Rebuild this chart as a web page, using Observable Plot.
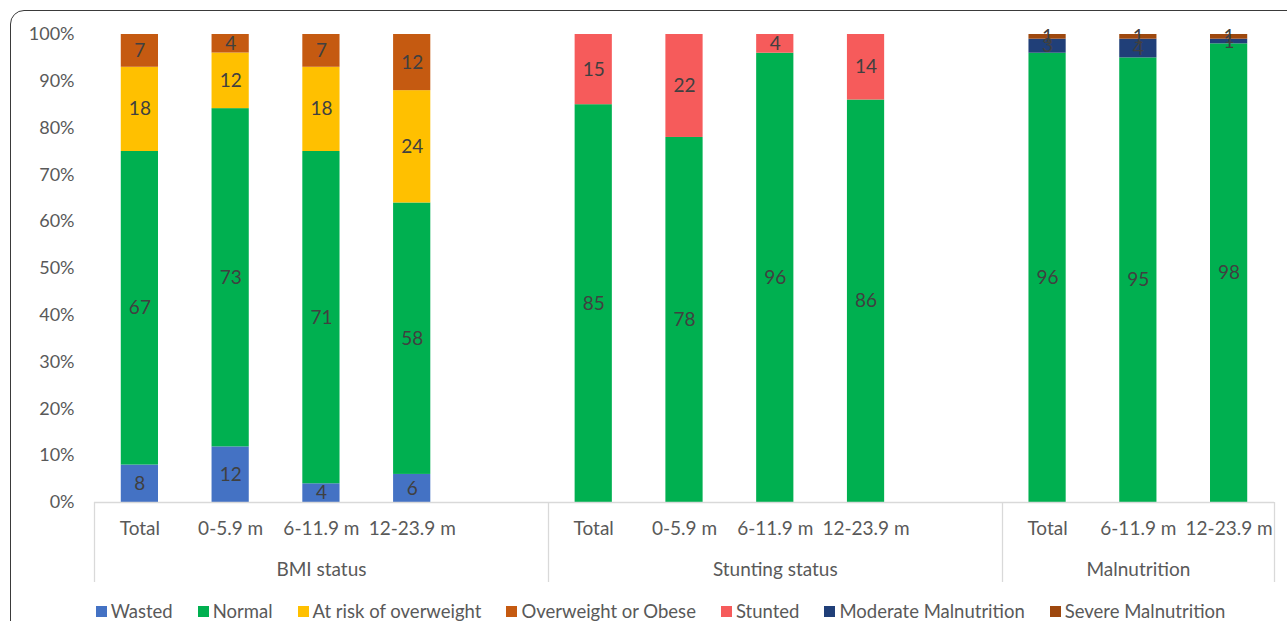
<!DOCTYPE html>
<html>
<head>
<meta charset="utf-8">
<script src="https://cdn.jsdelivr.net/npm/d3@7"></script>
<script src="https://cdn.jsdelivr.net/npm/@observablehq/plot@0.6"></script>
<style>
  html, body { margin: 0; padding: 0; background: #fff; overflow: hidden; }
  body { font-family: Lato, "Open Sans", sans-serif; width: 1287px; height: 621px; position: relative; }
  #frame { position: absolute; left: 10px; top: 10px; width: 1340px; height: 720px;
           border: 1.4px solid #3a3a3a; border-radius: 14px; box-sizing: border-box; }
  #chart { position: absolute; left: 0; top: 0; }
  #legend { position: absolute; left: 17px; top: 600px; width: 1287px; display: flex; justify-content: center;
            gap: 25px; font-size: 18.5px; color: #595959; line-height: 22px; white-space: nowrap; }
  #legend .item { display: flex; align-items: center; gap: 4px; }
  #legend .sw { width: 11px; height: 11px; display: inline-block; }
</style>
</head>
<body>
<div id="frame"></div>
<div id="chart"></div>
<div id="legend"></div>
<script>
// Groups of bars and the age bands inside each group
const groups = ["BMI status", "Stunting status", "Malnutrition"];
const bmiAges = ["Total", "0-5.9 m", "6-11.9 m", "12-23.9 m"];
const stuntingAges = ["Total", "0-5.9 m", "6-11.9 m", "12-23.9 m"];
const malnutritionAges = ["Total", "6-11.9 m", "12-23.9 m"];

// Series names and colours (stacking order bottom to top within each group)
const series = ["Wasted", "Normal", "At risk of overweight", "Overweight or Obese",
                "Stunted", "Moderate Malnutrition", "Severe Malnutrition"];
const colors = ["#4472C4", "#00B050", "#FFC000", "#C55A11", "#F65B5B", "#203F78", "#9E480E"];

// BMI status (%)
const wasted = [8, 12, 4, 6];
const normalBmi = [67, 73, 71, 58];
const atRisk = [18, 12, 18, 24];
const overweight = [7, 4, 7, 12];

// Stunting status (%)
const normalStunting = [85, 78, 96, 86];
const stunted = [15, 22, 4, 14];

// Malnutrition (%)
const normalMalnutrition = [96, 95, 98];
const moderate = [3, 4, 1];
const severe = [1, 1, 1];

// Y axis ticks (share of 100%)
const yTicks = [0, 0.1, 0.2, 0.3, 0.4, 0.5, 0.6, 0.7, 0.8, 0.9, 1];

// ---- build the long table ----
const rows = [];
const slots = [];
function addGroup(group, ages, parts, withGap) {
  ages.forEach((age, i) => {
    const slot = group + "|" + age;
    slots.push(slot);
    parts.forEach(([name, values]) => rows.push({slot, group, age, series: name, value: values[i]}));
  });
  if (withGap) slots.push(group + "|");
}
addGroup(groups[0], bmiAges, [["Wasted", wasted], ["Normal", normalBmi],
  ["At risk of overweight", atRisk], ["Overweight or Obese", overweight]], true);
addGroup(groups[1], stuntingAges, [["Normal", normalStunting], ["Stunted", stunted]], true);
addGroup(groups[2], malnutritionAges, [["Normal", normalMalnutrition],
  ["Moderate Malnutrition", moderate], ["Severe Malnutrition", severe]], false);

// group label sits under the middle slot of the group's span
const groupLabels = groups.map(g => {
  const own = slots.filter(s => s.startsWith(g + "|"));
  return {group: g, slot: own[Math.floor((own.length - 1) / 2)]};
});

// vertical separators between groups, below the baseline
function separators(index, scales, values, dims) {
  const left = dims.marginLeft, right = dims.width - dims.marginRight;
  const step = (right - left) / slots.length;
  const y0 = dims.height - dims.marginBottom;
  const g = d3.create("svg:g").attr("stroke", "#d9d9d9").attr("stroke-width", 1.3);
  const starts = [0];
  slots.forEach((s, i) => { if (i > 0 && s.split("|")[0] !== slots[i - 1].split("|")[0]) starts.push(i); });
  starts.push(slots.length);
  starts.forEach(i => {
    const x = Math.round(left + i * step) + 0.5;
    g.append("line").attr("x1", x).attr("x2", x).attr("y1", y0).attr("y2", y0 + 80);
  });
  return g.node();
}

const chart = Plot.plot({
  width: 1287,
  height: 590,
  marginTop: 34,
  marginBottom: 88,
  marginLeft: 94,
  marginRight: 13,
  style: {fontFamily: "Lato, 'Open Sans', sans-serif", fontSize: "19px", color: "#595959", background: "transparent"},
  x: {domain: slots, paddingInner: 0.59, paddingOuter: 0.295, round: false, axis: null},
  y: {domain: [0, 1], axis: null},
  color: {domain: series, range: colors},
  marks: [
    Plot.barY(rows, Plot.stackY({x: "slot", y: "value", fill: "series", offset: "normalize"})),
    Plot.text(rows, Plot.stackY({
      x: "slot", y: "value", offset: "normalize", text: d => String(d.value),
      fill: "#404040", fontSize: 19
    })),
    Plot.ruleY([0], {stroke: "#d9d9d9", strokeWidth: 1.3}),
    Plot.axisY({ticks: yTicks, tickFormat: d3.format(".0%"), tickSize: 0, tickPadding: 20,
      fontSize: 18, label: null}),
    Plot.axisX({tickSize: 0, tickPadding: 19, fontSize: 19, label: null,
      tickFormat: s => s.split("|")[1]}),
    Plot.text(groupLabels, {x: "slot", text: "group", frameAnchor: "bottom", lineAnchor: "middle",
      dy: 67, fill: "#595959", fontSize: 19}),
    separators
  ]
});
document.getElementById("chart").appendChild(chart);

// legend
const legend = document.getElementById("legend");
series.forEach((name, i) => {
  const item = document.createElement("span");
  item.className = "item";
  const sw = document.createElement("span");
  sw.className = "sw";
  sw.style.background = colors[i];
  item.appendChild(sw);
  item.appendChild(document.createTextNode(name));
  legend.appendChild(item);
});
</script>
</body>
</html>
